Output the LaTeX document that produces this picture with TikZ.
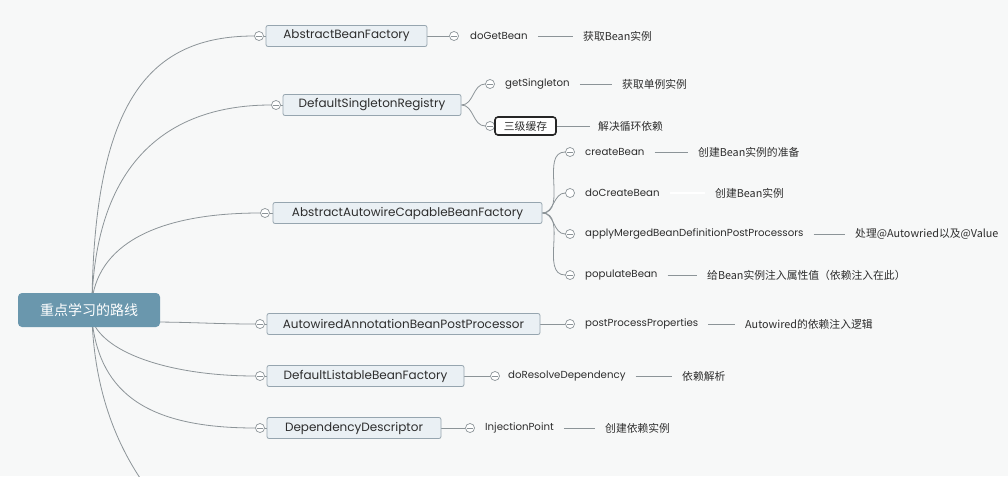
\documentclass[tikz,border=0pt]{standalone}
\usepackage{fontspec}
\setmainfont{Poppins}
\newfontfamily\cjk{Noto Sans CJK SC}
\usetikzlibrary{backgrounds}
\definecolor{bg}{RGB}{247,248,248}
\definecolor{linec}{RGB}{140,148,152}
\definecolor{boxb}{RGB}{150,165,175}
\definecolor{boxf}{RGB}{234,240,244}
\definecolor{rootf}{RGB}{106,151,173}
\definecolor{txt}{RGB}{45,45,45}
\tikzset{
 link/.style={draw=linec, line width=0.8pt},
 box/.style={draw=boxb, fill=boxf, rounded corners=2pt, minimum height=21pt, inner sep=0pt, font=\fontsize{12}{14}\selectfont, text=txt, line width=0.8pt},
 coll/.style={circle, draw=linec, fill=white, minimum size=9pt, inner sep=0pt, line width=0.7pt, path picture={\draw[linec, line width=0.7pt] ([xshift=-3pt]path picture bounding box.center) -- ([xshift=3pt]path picture bounding box.center);}},
 collo/.style={circle, draw=linec, fill=white, minimum size=9pt, inner sep=0pt, line width=0.7pt},
 child/.style={anchor=west, inner sep=0pt, font=\fontsize{10.2}{12}\selectfont, text=txt},
 lbl/.style={anchor=west, inner sep=0pt, font=\cjk\fontsize{10.8}{12}\selectfont, text=txt},
 rootbox/.style={fill=rootf, rounded corners=4pt, minimum width=142pt, minimum height=34pt, inner sep=0pt, text=white, font=\cjk\fontsize{14}{16}\selectfont},
 leafline/.style={link, shorten <=10pt, shorten >=10pt},
 hotbox/.style={draw=black!85, fill=white, rounded corners=3pt, line width=1.6pt, minimum width=61pt, minimum height=18pt, inner sep=0pt, font=\cjk\fontsize{10.8}{12}\selectfont, text=txt},
}
\begin{document}
\begin{tikzpicture}[x=1pt,y=-1pt]
\useasboundingbox (0,0) rectangle (1008,476);
% root
\node[rootbox] (root) at (89,310) {重点学习的路线};
\coordinate (rt) at (92,300);
\coordinate (rb) at (92,320);
\coordinate (re) at (150,322);
\coordinate (offb) at (140,478);
% first-level boxes
\node[coll] (c1) at (259,36) {};
\node[box, minimum width=161pt] (b1) at (346.5,36) {AbstractBeanFactory};
\node[coll] (c2) at (276,105) {};
\node[box, minimum width=178pt] (b2) at (372,105) {DefaultSingletonRegistry};
\node[coll] (c3) at (265,213) {};
\node[box, minimum width=269pt] (b3) at (407.5,213) {AbstractAutowireCapableBeanFactory};
\node[coll] (c4) at (260,324) {};
\node[box, minimum width=273pt] (b4) at (403.5,324) {AutowiredAnnotationBeanPostProcessor};
\node[coll] (c5) at (260,376) {};
\node[box, minimum width=197pt] (b5) at (365.5,376) {DefaultListableBeanFactory};
\node[coll] (c6) at (260,428) {};
\node[box, minimum width=174pt] (b6) at (354,428) {DependencyDescriptor};
% children of b1
\node[coll] (d1) at (454,36) {};
\node[child] (t1) at (470,36) {doGetBean};
\node[lbl] (l1) at (583,36) {获取Bean实例};
% children of b2
\node[coll] (d2a) at (490,84) {};
\node[child] (t2a) at (505,84) {getSingleton};
\node[lbl] (l2a) at (622,84) {获取单例实例};
\node[coll] (d2b) at (490,126) {};
\node[hotbox] (t2b) at (525.5,126) {三级缓存};
\node[lbl] (l2b) at (598,126) {解决循环依赖};
% children of b3
\node[coll] (d3a) at (570,152) {};
\node[child] (t3a) at (585,152) {createBean};
\node[lbl] (l3a) at (698,152) {创建Bean实例的准备};
\node[collo] (d3b) at (570,193) {};
\node[child] (t3b) at (585,193) {doCreateBean};
\node[lbl] (l3b) at (715,193) {创建Bean实例};
\node[coll] (d3c) at (570,234) {};
\node[child] (t3c) at (585,234) {applyMergedBeanDefinitionPostProcessors};
\node[lbl] (l3c) at (855,234) {处理@Autowried以及@Value};
\node[coll] (d3d) at (570,275) {};
\node[child] (t3d) at (585,275) {populateBean};
\node[lbl] (l3d) at (707,275) {给Bean实例注入属性值（依赖注入在此）};
% children of b4..b6
\node[coll] (d4) at (570,324) {};
\node[child] (t4) at (585,324) {postProcessProperties};
\node[lbl] (l4) at (745,324) {Autowired的依赖注入逻辑};
\node[coll] (d5) at (495,376) {};
\node[child] (t5) at (508,376) {doResolveDependency};
\node[lbl] (l5) at (682,376) {依赖解析};
\node[coll] (d6) at (470,428) {};
\node[child] (t6) at (485,428) {InjectionPoint};
\node[lbl] (l6) at (605,428) {创建依赖实例};
\begin{scope}[on background layer]
\fill[bg] (0,0) rectangle (1008,476);
\begin{scope}
\clip (0,0) rectangle (1008,476);
% root connectors
\draw[link] (rt) .. controls (95,100) and (150,36) .. (c1.west);
\draw[link] (rt) .. controls (97,160) and (170,105) .. (c2.west);
\draw[link] (rt) .. controls (100,240) and (165,213) .. (c3.west);
\draw[link] (re) to[out=0,in=180] (c4.west);
\draw[link] (rb) .. controls (105,355) and (175,376) .. (c5.west);
\draw[link] (rb) .. controls (100,395) and (150,428) .. (c6.west);
\draw[link] (rb) .. controls (95,390) and (115,440) .. (offb);
\end{scope}
% box stubs
\foreach \c/\b in {c1/b1,c2/b2,c3/b3,c4/b4,c5/b5,c6/b6} \draw[link] (\c.east) -- (\b.west);
\draw[link] (b1.east) -- (d1.west);
\draw[link] (b4.east) -- (d4.west);
\draw[link] (b5.east) -- (d5.west);
\draw[link] (b6.east) -- (d6.west);
\draw[link] (b2.east) to[out=0,in=180] (d2a.west);
\draw[link] (b2.east) to[out=0,in=180] (d2b.west);
\foreach \d in {d3a,d3b,d3c,d3d} \draw[link] (b3.east) to[out=0,in=180] (\d.west);
% leaf lines
\draw[leafline] (t1.east) -- (l1.west);
\draw[leafline] (t2a.east) -- (l2a.west);
\draw[link] (t2b.east) -- ++(33,0);
\draw[leafline] (t3a.east) -- (l3a.west);
\draw[leafline, draw=white, line width=1.4pt] (t3b.east) -- (l3b.west);
\draw[leafline] (t3c.east) -- (l3c.west);
\draw[leafline] (t3d.east) -- (l3d.west);
\draw[leafline] (t4.east) -- (l4.west);
\draw[leafline] (t5.east) -- (l5.west);
\draw[leafline] (t6.east) -- (l6.west);
\end{scope}
\end{tikzpicture}
\end{document}
